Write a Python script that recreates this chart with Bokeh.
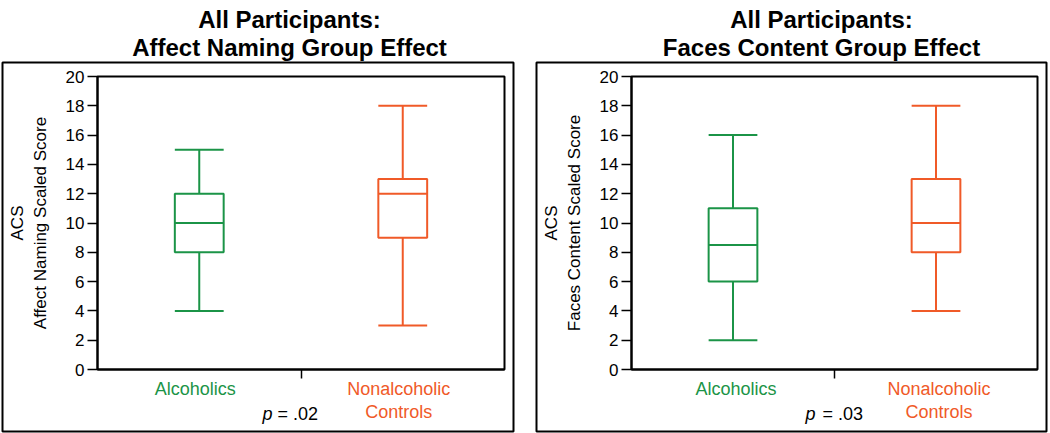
import numpy as np
from bokeh.plotting import figure
from bokeh.layouts import row
from bokeh.models import Range1d, FixedTicker, Label, LinearAxis, ColumnDataSource
from bokeh.embed import file_html
from bokeh.resources import INLINE

# ---- data ----
categories = ["Alcoholics", "Nonalcoholic\nControls"]
group_colors = ["#1b9447", "#f05a28"]
y_ticks = [0, 2, 4, 6, 8, 10, 12, 14, 16, 18, 20]

titles = [["All Participants:", "Affect Naming Group Effect"],
          ["All Participants:", "Faces Content Group Effect"]]
y_labels = ["ACS\nAffect Naming Scaled Score", "ACS\nFaces Content Scaled Score"]
p_values = [".02", ".03"]

# panel 1: Affect Naming
an_lower = [4, 3]
an_q1 = [8, 9]
an_median = [10, 12]
an_q3 = [12, 13]
an_upper = [15, 18]

# panel 2: Faces Content
fc_lower = [2, 4]
fc_q1 = [6, 8]
fc_median = [8.5, 10]
fc_q3 = [11, 13]
fc_upper = [16, 18]

FONT = "Liberation Sans"
W = 525
H = 433
Y0, Y1 = 0, 20
X0, X1 = 0, 2
BOX_W = 0.24


def make_panel(idx, lower, q1, med, q3, upper, inner_l, inner_r, box_l, box_r,
               title_cx, p_end_cx, p_start_cx, cat_dx):
    inner_t, inner_b = 76, 369
    sx = (inner_r - inner_l) / (X1 - X0)
    sy = (inner_b - inner_t) / (Y1 - Y0)
    xd = lambda cx: X0 + (cx - inner_l) / sx
    yd = lambda cy: Y0 + (inner_b - cy) / sy

    p = figure(width=W, height=H, x_range=Range1d(xd(0), xd(W)), y_range=Range1d(yd(H), yd(0)),
               output_backend="svg", toolbar_location=None,
               x_axis_location=None, y_axis_location=None, min_border=0)
    p.grid.visible = False
    p.outline_line_color = None
    p.background_fill_color = "white"
    p.border_fill_color = "white"

    # outer panel border
    p.quad(left=[xd(box_l)], right=[xd(box_r)], top=[yd(62)], bottom=[yd(431)],
           fill_color=None, line_color="black", line_width=2)
    # inner plot frame
    p.quad(left=[X0], right=[X1], bottom=[Y0], top=[Y1],
           fill_color=None, line_color="black", line_width=2)

    # y axis
    ya = LinearAxis(fixed_location=X0, bounds=(Y0, Y1))
    ya.ticker = FixedTicker(ticks=y_ticks)
    ya.major_tick_out = 10
    ya.major_tick_in = 0
    ya.minor_tick_out = 0
    ya.minor_tick_in = 0
    ya.axis_line_width = 2
    ya.major_tick_line_width = 1.5
    ya.major_label_text_font = FONT
    ya.major_label_text_font_size = "17px"
    ya.major_label_text_color = "black"
    ya.major_label_standoff = 3
    ya.axis_label = y_labels[idx]
    ya.axis_label_text_font = FONT
    ya.axis_label_text_font_size = "17px"
    ya.axis_label_text_font_style = "normal"
    ya.axis_label_text_color = "black"
    ya.axis_label_standoff = 13
    p.add_layout(ya, "left")

    # x axis: single tick between the groups
    xa = LinearAxis(fixed_location=Y0, bounds=(X0, X1))
    xa.ticker = FixedTicker(ticks=[1])
    xa.major_label_overrides = {1: ""}
    xa.major_tick_out = 9
    xa.major_tick_in = 0
    xa.minor_tick_out = 0
    xa.minor_tick_in = 0
    xa.axis_line_width = 2
    xa.major_tick_line_width = 1.5
    p.add_layout(xa, "below")

    x = np.arange(len(categories)) + 0.5
    src = ColumnDataSource(dict(
        x=x, left=x - BOX_W / 2, right=x + BOX_W / 2,
        lower=lower, q1=q1, med=med, q3=q3, upper=upper, color=group_colors))

    lw = 2
    p.segment(x0="x", y0="q3", x1="x", y1="upper", line_color="color", line_width=lw, source=src)
    p.segment(x0="x", y0="lower", x1="x", y1="q1", line_color="color", line_width=lw, source=src)
    p.segment(x0="left", y0="upper", x1="right", y1="upper", line_color="color", line_width=lw, source=src)
    p.segment(x0="left", y0="lower", x1="right", y1="lower", line_color="color", line_width=lw, source=src)
    p.quad(left="left", right="right", bottom="q1", top="q3", fill_color="white",
           line_color="color", line_width=lw, source=src)
    p.segment(x0="left", y0="med", x1="right", y1="med", line_color="color", line_width=lw, source=src)

    # category labels
    for xi, cat, col in zip(x, categories, group_colors):
        p.add_layout(Label(x=xi, y=yd(inner_b + 9.5), x_offset=cat_dx,
                           text=cat, text_align="center", text_baseline="top",
                           text_color=col, text_font=FONT, text_font_size="18px",
                           text_line_height=1.17))

    # p value
    p.add_layout(Label(x=xd(p_end_cx), y=yd(403.5), text="p", text_align="right",
                       text_baseline="top", text_font=FONT, text_font_size="18px",
                       text_font_style="italic", text_color="black"))
    p.add_layout(Label(x=xd(p_start_cx), y=yd(403.5), text="= " + p_values[idx],
                       text_align="left", text_baseline="top", text_font=FONT,
                       text_font_size="18px", text_color="black"))

    # titles
    for line, cy in zip(titles[idx], [19, 47]):
        p.add_layout(Label(x=xd(title_cx), y=yd(cy), text=line,
                           text_align="center", text_baseline="alphabetic", text_font=FONT,
                           text_font_size="24px", text_font_style="bold", text_color="black"))
    return p


p1 = make_panel(0, an_lower, an_q1, an_median, an_q3, an_upper,
                inner_l=97, inner_r=504, box_l=2, box_r=513,
                title_cx=289, p_end_cx=272, p_start_cx=277, cat_dx=-4)
p2 = make_panel(1, fc_lower, fc_q1, fc_median, fc_q3, fc_upper,
                inner_l=106, inner_r=512, box_l=11, box_r=521,
                title_cx=296, p_end_cx=290, p_start_cx=297, cat_dx=3)

layout = row(p1, p2, spacing=0)
open("out.html", "w").write(file_html(layout, INLINE))
